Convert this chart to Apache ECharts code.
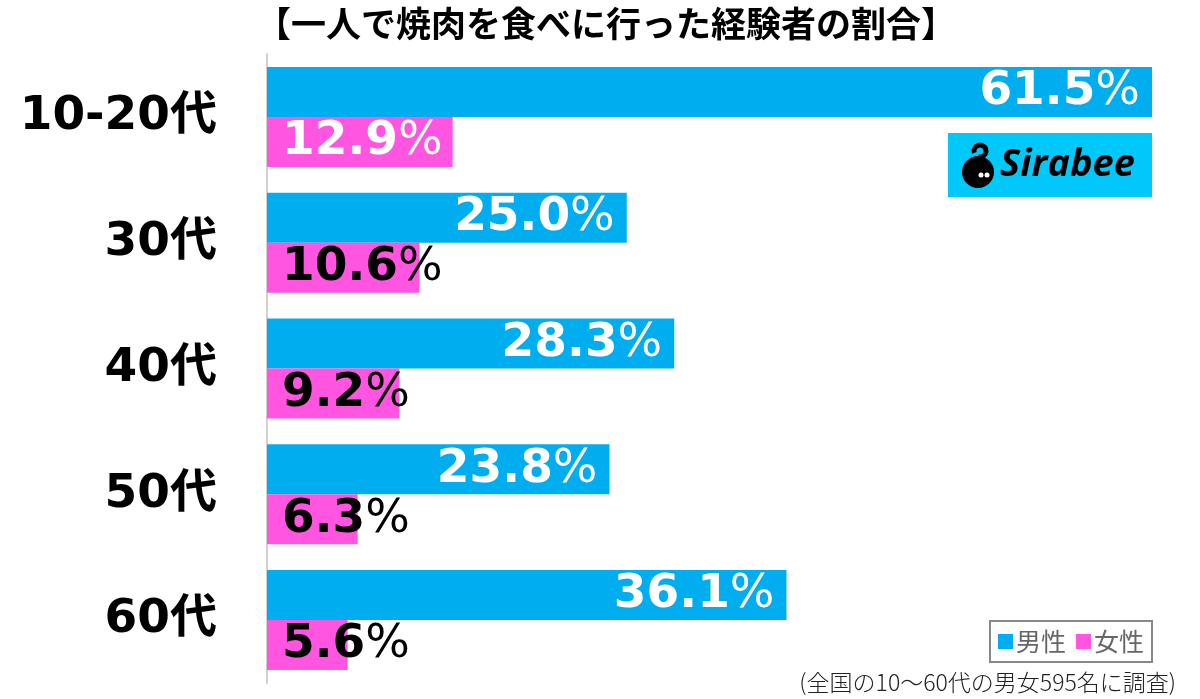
<!DOCTYPE html>
<html><head><meta charset="utf-8">
<script src="https://cdn.jsdelivr.net/npm/echarts@6/dist/echarts.min.js"></script>
<style>html,body{margin:0;padding:0;background:#fff}#c{width:1200px;height:699px}</style>
</head><body><div id="c"></div>
<script>
const categories = ['10-20代', '30代', '40代', '50代', '60代'];
const male = [61.5, 25.0, 28.3, 23.8, 36.1];
const female = [12.9, 10.6, 9.2, 6.3, 5.6];
const seriesNames = ['男性', '女性'];
const femaleLabelColors = ['#ffffff', '#000000', '#000000', '#000000', '#000000'];

const FONT = '"Noto Sans CJK JP", "Noto Sans", sans-serif';
const NUMFONT = '"DejaVu Sans", "Noto Sans CJK JP", sans-serif';
const chart = echarts.init(document.getElementById('c'));
const pctRich = {
  n: {fontFamily: NUMFONT, fontWeight: 'bold', fontSize: 47},
  p: {fontFamily: NUMFONT, fontWeight: 'normal', fontSize: 47}
};
function fmt(p) { return '{n|' + p.value.toFixed(1) + '}{p|%}'; }

chart.setOption({
  animation: false,
  title: {
    text: '【一人で焼肉を食べに行った経験者の割合】',
    left: 601, top: 1, textAlign: 'center',
    textStyle: {fontFamily: FONT, fontWeight: 'bold', fontSize: 35, color: '#000'}
  },
  legend: {
    data: seriesNames,
    right: 48, bottom: 37,
    orient: 'horizontal',
    icon: 'rect', itemWidth: 15, itemHeight: 15, itemGap: 10,
    borderColor: '#888', borderWidth: 2, padding: [8, 8, 8, 8],
    textStyle: {fontFamily: FONT, fontSize: 25, color: '#666', padding: [0, 0, 0, -2]}
  },
  grid: {left: 267, top: 54, width: 885, height: 629, containLabel: false},
  xAxis: {
    type: 'value', min: 0, max: 61.5,
    show: false
  },
  yAxis: {
    type: 'category', data: categories, inverse: true,
    axisLine: {show: true, lineStyle: {color: '#d0d0d0', width: 2}},
    axisTick: {show: false},
    axisLabel: {margin: 50, fontFamily: '"DejaVu Sans", "Noto Sans CJK JP", sans-serif', fontWeight: 'bold', fontSize: 47, color: '#000'}
  },
  series: [
    {
      name: seriesNames[0], type: 'bar', data: male, barWidth: 50, barGap: '0%',
      itemStyle: {color: '#00AEEF'},
      label: {show: true, position: 'insideRight', distance: 12, color: '#fff', formatter: fmt, rich: pctRich}
    },
    {
      name: seriesNames[1], type: 'bar', barWidth: 50,
      data: female.map((v, i) => ({value: v, label: {color: femaleLabelColors[i]}})),
      itemStyle: {color: '#FF55E0'},
      label: {show: true, position: 'insideLeft', distance: 15, formatter: fmt, rich: pctRich}
    }
  ],
  graphic: [
    {
      type: 'group', left: 948, top: 133,
      children: [
        {type: 'rect', shape: {x: 0, y: 0, width: 204, height: 64}, style: {fill: '#00C8F8'}},
        {type: 'circle', shape: {cx: 30, cy: 39, r: 16}, style: {fill: '#000'}},
        {type: 'arc', shape: {cx: 32, cy: 18, r: 6, startAngle: Math.PI * 0.9, endAngle: Math.PI * 2.6}, style: {stroke: '#000', lineWidth: 5, fill: null}},
        {type: 'circle', shape: {cx: 33, cy: 42, r: 2.5}, style: {fill: '#fff'}},
        {type: 'circle', shape: {cx: 39, cy: 42, r: 2.5}, style: {fill: '#fff'}},
        {type: 'text', style: {x: 52, y: 13, text: 'Sirabee', fontFamily: '"Open Sans", "Noto Sans", sans-serif', fontWeight: 'bold', fontStyle: 'italic', fontSize: 38, fill: '#000'}}
      ]
    },
    {
      type: 'text', right: 24, top: 671,
      style: {text: '(全国の10〜60代の男女595名に調査)', fontFamily: FONT, fontWeight: 300, fontSize: 23, fill: '#222'}
    }
  ]
});
</script></body></html>
